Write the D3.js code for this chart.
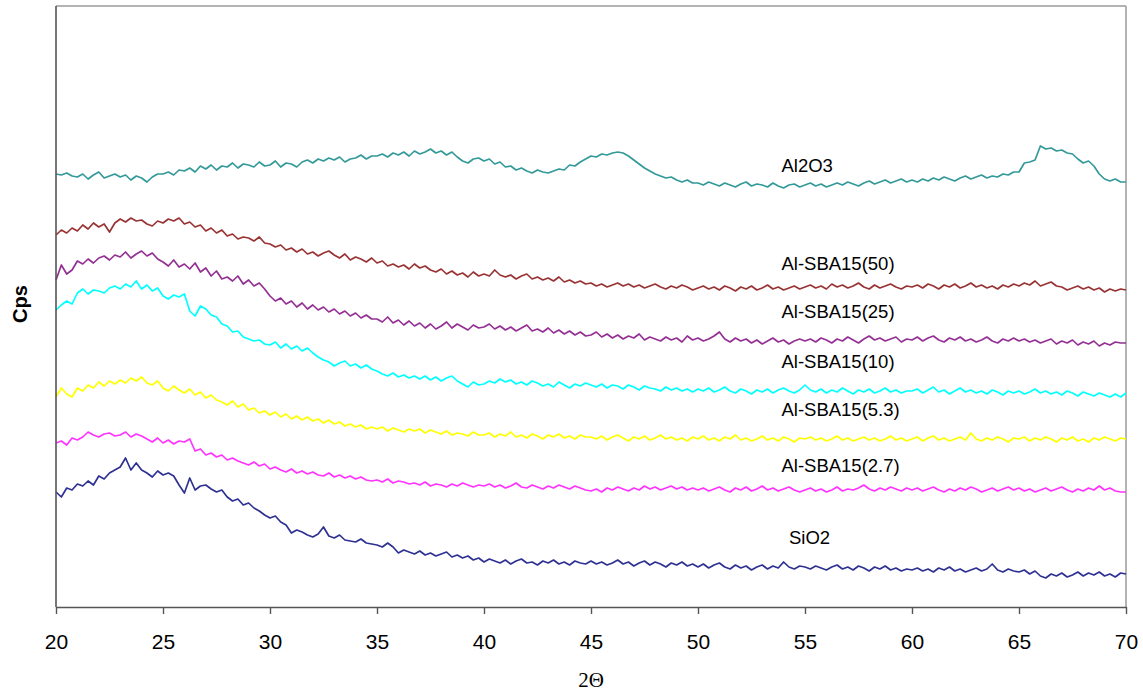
<!DOCTYPE html>
<html>
<head>
<meta charset="utf-8">
<script src="https://cdn.jsdelivr.net/npm/d3@7/dist/d3.min.js"></script>
<style>
  html, body { margin: 0; padding: 0; background: #fff; }
  svg { display: block; }
</style>
</head>
<body>
<svg id="chart" width="1143" height="692"></svg>
<script>
// ---------------- DATA ----------------
// 2-theta sampling: 20 .. 70 in 0.25° steps (201 points)
const twoTheta = d3.range(201).map(i => 20 + i * 0.25);
const xTicks = [20, 25, 30, 35, 40, 45, 50, 55, 60, 65, 70];
const seriesNames = ["Al2O3", "Al-SBA15(50)", "Al-SBA15(25)", "Al-SBA15(10)", "Al-SBA15(5.3)", "Al-SBA15(2.7)", "SiO2"];
const seriesColors = ["#339999", "#993333", "#943094", "#00ffff", "#ffff00", "#ff33ff", "#2e3192"];

// intensities (Cps, arbitrary offset units)
const al2o3 = [
433,432,434,431,430,433,428,432,435,429,431,433,430,432,427,431,429,425,430,433,
433,435,432,437,436,439,435,441,438,442,437,441,440,444,439,443,442,440,445,441,
442,446,440,444,443,440,445,447,444,448,446,449,447,450,445,448,449,452,448,451,
451,453,450,454,452,455,451,456,453,455,458,454,456,452,455,450,446,444,448,449,
446,448,443,445,440,441,437,439,436,434,437,435,434,436,438,437,442,441,445,448,
451,450,453,452,454,455,454,451,447,443,439,436,433,431,429,430,427,425,427,424,
424,422,425,423,421,424,422,420,423,425,421,423,422,420,424,421,419,422,423,420,
422,424,421,423,420,422,424,422,425,423,421,424,426,423,425,427,424,426,428,425,
427,425,428,426,429,427,430,428,426,429,431,428,430,432,429,431,430,433,432,435,
435,444,445,447,461,458,459,456,457,454,453,448,444,446,441,433,428,426,428,425,
425];
const sba50 = [
372,377,374,379,376,382,378,384,380,383,375,384,388,385,389,386,387,383,381,386,
384,388,386,389,383,385,380,382,376,379,374,377,371,373,368,370,369,366,370,364,
363,360,362,357,359,355,358,353,355,351,354,356,352,349,353,347,350,348,345,349,
344,346,341,343,340,342,338,343,339,341,337,335,338,333,336,332,334,330,335,331,
333,331,337,332,330,332,328,331,333,328,330,327,329,326,330,325,327,324,326,323,
324,321,323,320,322,324,321,323,320,322,319,321,323,320,318,321,319,322,320,317,
319,321,318,320,317,321,319,316,320,318,321,317,319,322,318,320,317,319,321,318,
320,322,319,321,318,323,320,322,319,321,324,320,318,322,319,321,323,320,318,321,
320,322,319,323,321,318,322,320,323,319,321,324,320,322,319,321,318,322,320,323,
321,324,322,326,321,323,325,321,320,317,319,321,318,320,317,319,315,318,316,318,
317];
const sba25 = [
327,342,333,337,346,343,348,344,349,351,347,352,350,355,349,353,356,351,354,348,
345,341,347,340,343,338,344,335,339,331,336,328,330,326,331,323,327,321,324,318,
311,306,309,303,306,300,304,298,302,297,300,295,298,293,296,291,294,289,292,288,
288,285,290,284,287,282,286,281,284,279,283,278,281,285,279,283,280,277,282,279,
280,283,278,281,277,280,276,279,282,276,278,275,279,274,277,273,276,272,275,271,
272,275,270,273,269,272,268,271,269,273,267,270,268,266,270,267,269,265,271,267,
269,266,268,271,275,268,265,269,266,268,264,267,263,266,269,265,267,263,266,268,
266,268,265,269,267,264,268,266,270,267,264,268,271,267,269,266,268,270,265,268,
267,270,266,269,271,267,265,269,267,270,266,268,265,267,270,266,264,268,266,269,
266,268,265,267,264,266,268,263,266,264,267,262,265,263,266,261,264,262,265,264,
264];
const sba10 = [
297,302,306,303,314,318,313,317,316,314,319,321,318,323,320,326,318,322,316,319,
311,308,312,310,313,296,291,301,298,292,290,283,281,275,276,270,268,266,267,263,
262,265,259,263,258,261,256,259,254,250,247,245,241,244,246,241,243,239,242,238,
236,233,231,234,230,232,229,231,228,231,227,230,226,229,231,226,223,220,225,222,
223,226,224,228,225,227,223,225,222,226,224,221,223,220,225,222,219,223,221,224,
222,220,223,219,222,221,218,222,220,217,221,219,218,216,220,217,219,216,218,215,
218,216,219,215,217,220,216,214,218,216,213,217,215,218,214,217,219,216,214,217,
222,217,215,218,214,217,215,219,216,213,217,215,218,214,216,219,215,217,214,216,
216,218,214,217,220,215,217,213,216,219,215,217,214,216,213,217,215,212,216,214,
216,213,215,218,214,216,213,215,212,216,214,211,215,213,211,214,212,210,213,210,
214];
const sba53 = [
210,219,213,210,219,216,222,219,225,221,226,223,227,224,229,226,230,224,222,226,
219,216,221,217,214,218,212,215,209,212,207,205,202,206,200,203,197,199,194,196,
192,195,190,193,188,191,187,190,186,188,184,187,183,185,181,183,180,182,178,180,
178,180,176,179,177,175,178,176,178,174,177,175,173,176,172,174,173,171,175,172,
172,174,170,173,171,175,170,172,169,173,171,168,172,170,173,169,171,168,172,170,
170,168,171,167,170,172,169,166,170,168,171,167,169,172,168,170,167,169,166,170,
168,171,167,169,166,170,168,172,167,169,166,168,171,167,169,166,170,168,165,169,
168,170,167,169,166,168,171,167,169,166,168,170,167,169,166,168,171,167,169,166,
168,170,166,169,171,167,169,166,168,170,167,174,168,166,169,167,170,168,165,169,
168,170,166,169,167,170,168,165,169,167,170,166,168,165,169,167,170,168,166,169,
168];
const sba27 = [
164,166,162,169,167,170,175,172,170,173,174,171,172,175,170,173,171,168,165,169,
164,167,163,166,165,168,156,158,152,154,150,152,147,149,146,144,142,145,141,143,
138,140,137,135,138,134,136,133,135,132,131,134,130,132,129,131,128,130,127,126,
127,125,128,124,126,125,123,124,122,125,121,123,122,120,123,121,124,122,120,122,
121,123,120,122,119,121,124,120,119,122,120,118,121,119,122,120,118,121,119,117,
116,118,115,119,117,120,118,116,119,117,121,118,120,117,119,121,118,120,117,119,
117,119,116,118,120,117,115,119,117,120,116,118,121,117,119,116,118,120,117,115,
117,119,116,118,115,117,120,116,118,117,119,122,118,116,119,117,120,118,116,119,
117,119,116,118,120,117,115,118,116,119,117,120,118,115,117,119,116,118,120,117,
119,116,118,115,117,119,116,118,120,117,115,118,116,119,117,121,117,119,116,115,
115];
const sio2 = [
115,110,119,117,123,121,126,122,131,128,134,137,140,149,137,144,137,134,130,136,
132,134,131,122,114,129,117,121,122,118,115,117,110,106,108,102,104,99,96,92,
89,91,85,82,74,77,75,72,70,73,80,71,69,72,67,66,65,68,64,63,
62,60,64,60,54,57,55,53,56,52,54,51,53,55,50,52,49,51,47,49,
45,48,46,44,47,43,46,48,44,45,42,46,44,47,43,45,42,46,44,43,
46,43,45,42,44,47,43,45,41,44,46,42,45,43,40,44,42,45,41,43,
40,43,39,42,44,40,38,42,39,41,37,40,42,38,41,39,45,40,38,41,
40,38,41,39,37,40,42,38,40,37,41,39,36,40,38,41,37,39,36,38,
37,39,36,38,35,39,37,40,36,38,35,37,39,36,38,43,37,35,38,36,
35,37,33,36,31,29,33,31,34,30,32,35,31,34,32,35,31,33,30,34,
33];
const seriesValues = [al2o3, sba50, sba25, sba10, sba53, sba27, sio2];
// label anchors in data units (2θ, Cps)
const labelTheta = [53.9, 53.9, 53.9, 53.9, 53.9, 53.9, 54.25];
const labelCps   = [435, 337, 289, 239, 191, 135, 63];

// ---------------- CHART ----------------
const svg = d3.select("#chart");
const L = 56, R = 1126, T = 6, B = 607;

const x = d3.scaleLinear().domain([20, 70]).range([L, R]);
const y = d3.scaleLinear().domain([0, 600]).range([B, T + 1]);

svg.append("rect").attr("width", 1143).attr("height", 692).attr("fill", "#fff");

// frame: top & right lighter
svg.append("line").attr("x1", L).attr("x2", R).attr("y1", T).attr("y2", T)
  .attr("stroke", "#9a9a9a").attr("stroke-width", 1.5);
svg.append("line").attr("x1", R).attr("x2", R).attr("y1", T).attr("y2", B)
  .attr("stroke", "#9a9a9a").attr("stroke-width", 1.5);

const line = d3.line().x((d, i) => x(twoTheta[i])).y(d => y(d));

seriesValues.forEach((vals, k) => {
  svg.append("path")
    .datum(vals)
    .attr("fill", "none")
    .attr("stroke", seriesColors[k])
    .attr("stroke-width", 1.7)
    .attr("stroke-linejoin", "round")
    .attr("d", line);
});

// left axis line
svg.append("line").attr("x1", L).attr("x2", L).attr("y1", T).attr("y2", B)
  .attr("stroke", "#555").attr("stroke-width", 1.6);

// bottom axis
const xAxis = d3.axisBottom(x).tickValues(xTicks).tickSize(7).tickPadding(20).tickSizeOuter(0)
  .tickFormat(d3.format("d"));
const gx = svg.append("g").attr("transform", `translate(0,${B})`).call(xAxis);
gx.select(".domain").attr("stroke", "#555").attr("stroke-width", 1.6);
gx.selectAll(".tick line").attr("stroke", "#555").attr("stroke-width", 1.4);
gx.selectAll(".tick text")
  .attr("font-family", "Liberation Sans, Arial, sans-serif")
  .attr("font-size", 21)
  .attr("fill", "#000");

// series labels
seriesNames.forEach((name, k) => {
  svg.append("text")
    .attr("x", x(labelTheta[k]))
    .attr("y", y(labelCps[k]))
    .attr("font-family", "Liberation Sans, Arial, sans-serif")
    .attr("font-size", 18.5)
    .attr("fill", "#000")
    .text(name);
});

// axis titles
svg.append("text")
  .attr("x", (L + R) / 2).attr("y", 687)
  .attr("text-anchor", "middle")
  .attr("font-family", "Liberation Serif, Times New Roman, serif")
  .attr("font-size", 21)
  .attr("fill", "#000")
  .text("2Θ");

svg.append("text")
  .attr("transform", "translate(27,304) rotate(-90)")
  .attr("text-anchor", "middle")
  .attr("font-family", "Liberation Sans, Arial, sans-serif")
  .attr("font-weight", "bold")
  .attr("font-size", 20)
  .attr("fill", "#000")
  .text("Cps");
</script>
</body>
</html>
